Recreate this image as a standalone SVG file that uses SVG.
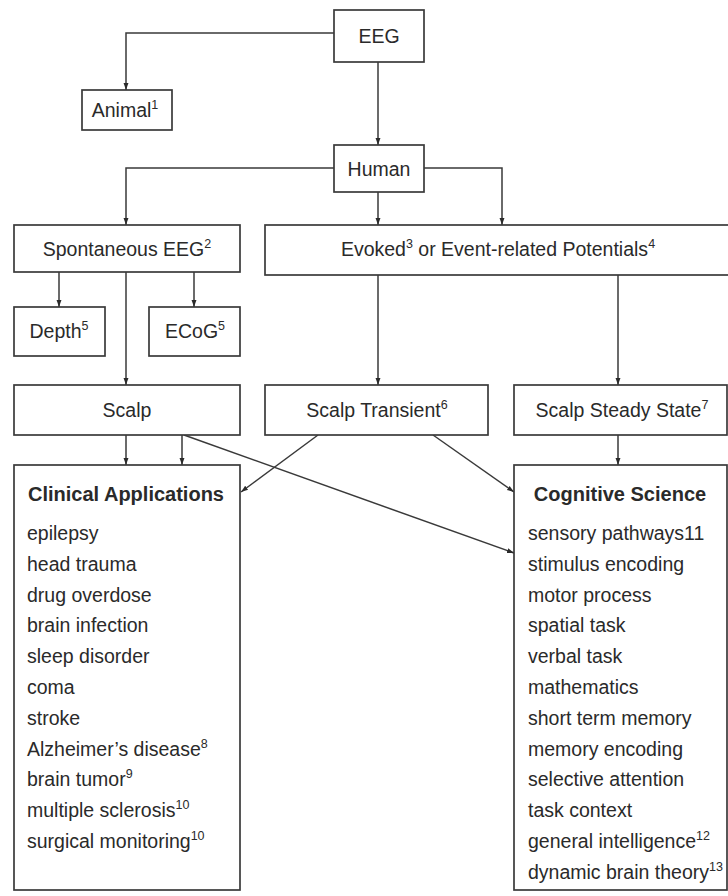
<svg xmlns="http://www.w3.org/2000/svg" width="728" height="896" viewBox="0 0 728 896">
<defs>
<marker id="arr" viewBox="0 0 10 10" refX="10" refY="5" markerWidth="7" markerHeight="11" orient="auto" markerUnits="userSpaceOnUse">
<path d="M0,1.5 L10,5 L0,8.5 z" fill="#2a2a2a"/>
</marker>
<style>
.box{fill:#fff;stroke:#3a3a3a;stroke-width:1.7}
.t{font-family:"Liberation Sans",Arial,sans-serif;font-size:19.5px;fill:#2a2a2a}
.c{text-anchor:middle}
.b{font-weight:bold;font-size:20px}
.s{font-size:12.5px}
.ar{fill:none;stroke:#3a3a3a;stroke-width:1.5;marker-end:url(#arr)}
</style>
</defs>
<rect width="728" height="896" fill="#fff"/>
<g id="connectors">
<path class="ar" d="M334,33 H126 V90"/>
<path class="ar" d="M378,62 V145"/>
<path class="ar" d="M334,168 H126 V225"/>
<path class="ar" d="M424,168 H502 V225"/>
<path class="ar" d="M378,192 V225"/>
<path class="ar" d="M59,272 V307"/>
<path class="ar" d="M194,272 V307"/>
<path class="ar" d="M126,272 V385"/>
<path class="ar" d="M378,275 V385"/>
<path class="ar" d="M618,275 V385"/>
<path class="ar" d="M126,435 V465"/>
<path class="ar" d="M182,435 V465"/>
<path class="ar" d="M618,435 V465"/>
<path class="ar" d="M184,435 L514,553"/>
<path class="ar" d="M318,435 L241,492"/>
<path class="ar" d="M433,435 L514,492"/>
</g>
<g id="eeg"><rect class="box" x="334" y="10" width="90" height="52"/><text class="t c" x="379" y="43">EEG</text></g>
<g id="animal"><rect class="box" x="82" y="90" width="90" height="40"/><text class="t c" x="125" y="117">Animal<tspan class="s" dy="-8">1</tspan></text></g>
<g id="human"><rect class="box" x="334" y="145" width="90" height="47"/><text class="t c" x="379" y="176">Human</text></g>
<g id="spontaneous"><rect class="box" x="14" y="225" width="226" height="47"/><text class="t c" x="127" y="256">Spontaneous EEG<tspan class="s" dy="-8">2</tspan></text></g>
<g id="evoked"><rect class="box" x="265" y="225" width="480" height="50"/><text class="t c" x="498" y="256">Evoked<tspan class="s" dy="-8">3</tspan><tspan dy="8"> or Event-related Potentials</tspan><tspan class="s" dy="-8">4</tspan></text></g>
<g id="depth"><rect class="box" x="14" y="307" width="91" height="49"/><text class="t c" x="59" y="338">Depth<tspan class="s" dy="-8">5</tspan></text></g>
<g id="ecog"><rect class="box" x="149" y="307" width="91" height="49"/><text class="t c" x="195" y="338">ECoG<tspan class="s" dy="-8">5</tspan></text></g>
<g id="scalp"><rect class="box" x="14" y="385" width="226" height="50"/><text class="t c" x="127" y="417">Scalp</text></g>
<g id="scalp-transient"><rect class="box" x="265" y="385" width="223" height="50"/><text class="t c" x="377" y="417">Scalp Transient<tspan class="s" dy="-8">6</tspan></text></g>
<g id="scalp-steady"><rect class="box" x="514" y="385" width="213" height="50"/><text class="t c" x="622" y="417">Scalp Steady State<tspan class="s" dy="-8">7</tspan></text></g>
<g id="clinical"><rect class="box" x="14" y="465" width="226" height="425"/>
<text class="t b c" x="126" y="501">Clinical Applications</text>
<text class="t" x="27" y="540">epilepsy</text>
<text class="t" x="27" y="571">head trauma</text>
<text class="t" x="27" y="602">drug overdose</text>
<text class="t" x="27" y="632">brain infection</text>
<text class="t" x="27" y="663">sleep disorder</text>
<text class="t" x="27" y="694">coma</text>
<text class="t" x="27" y="725">stroke</text>
<text class="t" x="27" y="756">Alzheimer’s disease<tspan class="s" dy="-8">8</tspan></text>
<text class="t" x="27" y="786">brain tumor<tspan class="s" dy="-8">9</tspan></text>
<text class="t" x="27" y="817">multiple sclerosis<tspan class="s" dy="-8">10</tspan></text>
<text class="t" x="27" y="848">surgical monitoring<tspan class="s" dy="-8">10</tspan></text>
</g>
<g id="cognitive"><rect class="box" x="514" y="465" width="213" height="425"/>
<text class="t b c" x="620" y="501">Cognitive Science</text>
<text class="t" x="528" y="540">sensory pathways11</text>
<text class="t" x="528" y="571">stimulus encoding</text>
<text class="t" x="528" y="602">motor process</text>
<text class="t" x="528" y="632">spatial task</text>
<text class="t" x="528" y="663">verbal task</text>
<text class="t" x="528" y="694">mathematics</text>
<text class="t" x="528" y="725">short term memory</text>
<text class="t" x="528" y="756">memory encoding</text>
<text class="t" x="528" y="786">selective attention</text>
<text class="t" x="528" y="817">task context</text>
<text class="t" x="528" y="848">general intelligence<tspan class="s" dy="-8">12</tspan></text>
<text class="t" x="528" y="879">dynamic brain theory<tspan class="s" dy="-8">13</tspan></text>
</g>
</svg>
